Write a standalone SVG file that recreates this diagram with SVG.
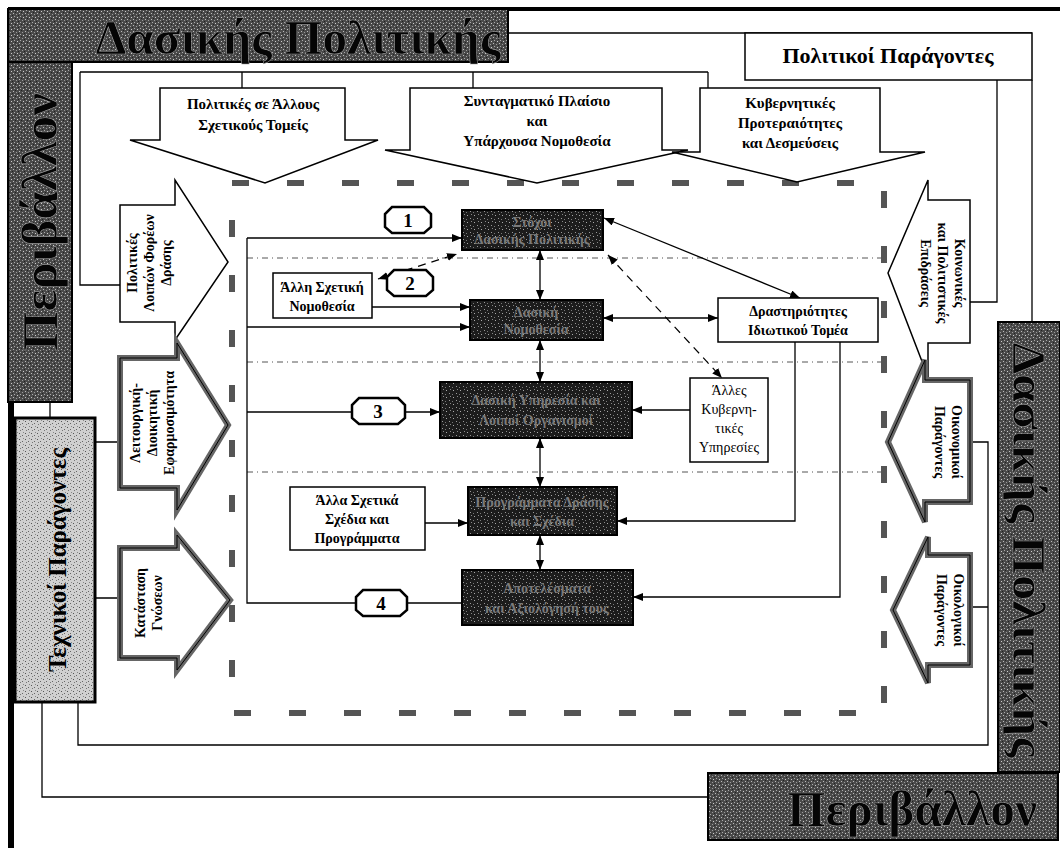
<svg xmlns="http://www.w3.org/2000/svg" width="1060" height="848" viewBox="0 0 1060 848">
<defs>
<pattern id="dk" width="7" height="7" patternUnits="userSpaceOnUse">
<rect width="7" height="7" fill="#1c1c1c"/>
<rect x="1" y="1" width="1" height="1" fill="#999"/><rect x="4" y="2" width="1" height="1" fill="#777"/>
<rect x="2" y="4" width="1" height="1" fill="#888"/><rect x="5" y="5" width="1" height="1" fill="#aaa"/>
</pattern>
<pattern id="md" width="6" height="6" patternUnits="userSpaceOnUse">
<rect width="6" height="6" fill="#4a4a4a"/>
<rect x="1" y="1" width="1" height="1" fill="#bbb"/><rect x="4" y="2" width="1" height="1" fill="#999"/>
<rect x="2" y="4" width="1" height="1" fill="#aaa"/><rect x="5" y="5" width="1" height="1" fill="#ccc"/>
<rect x="0" y="3" width="1" height="1" fill="#222"/><rect x="3" y="0" width="1" height="1" fill="#222"/>
</pattern>
<pattern id="lt" width="6" height="6" patternUnits="userSpaceOnUse">
<rect width="6" height="6" fill="#d0d0d0"/>
<rect x="1" y="1" width="1" height="1" fill="#555"/><rect x="4" y="3" width="1" height="1" fill="#666"/>
<rect x="2" y="4" width="1" height="1" fill="#777"/><rect x="5" y="0" width="1" height="1" fill="#888"/>
</pattern>
<marker id="ah" viewBox="0 0 10 8" refX="10" refY="4" markerWidth="10" markerHeight="8" markerUnits="userSpaceOnUse" orient="auto-start-reverse">
<path d="M0,0 L10,4 L0,8 Z" fill="#000"/>
</marker>
</defs>
<style>
.ln{fill:none;stroke:#000;stroke-width:1.3}
.dsh{fill:none;stroke:#000;stroke-width:1.2;stroke-dasharray:8 6}
.dot{fill:none;stroke:#555;stroke-width:1;stroke-dasharray:6 4 1 4}
.frame{fill:none;stroke:#555;stroke-width:6;stroke-dasharray:17 38}
.thin{fill:#fff;stroke:#000;stroke-width:1.5}
.thick{fill:#fff;stroke:#666;stroke-width:6}
.thickin{fill:none;stroke:#000;stroke-width:1}
.dark{fill:url(#dk);stroke:#000;stroke-width:2}
.ttl{fill:url(#md);stroke:#000;stroke-width:2}
.big{font-family:"Liberation Serif",serif;font-weight:bold;fill:#050505;stroke:#999;stroke-width:0.6;text-anchor:middle}
.t{font-family:"Liberation Serif",serif;font-weight:bold;font-size:14px;fill:#000;text-anchor:middle}
.r{font-family:"Liberation Serif",serif;font-size:14px;fill:#000;text-anchor:middle}
.dt{font-family:"Liberation Serif",serif;font-weight:bold;font-size:14px;fill:#7a7a7a;text-anchor:middle}
.lab{fill:#fff;stroke:#000;stroke-width:2.5}
.num{font-family:"Liberation Serif",serif;font-weight:bold;font-size:19px;fill:#000;text-anchor:middle}
</style>
<rect width="1060" height="848" fill="#fff"/>

<g id="outer-frame">
<rect x="8" y="7" width="1052" height="4" fill="#000"/>
<rect x="8" y="7" width="6" height="841" fill="#000"/>
</g>

<g id="connectors">
<path class="ln" d="M508,33 H1032 M1032,80 V322"/>
<path class="ln" d="M80,72 H708 M242,72 V88 M473,72 V88 M708,72 V88 M80,72 V285 H120"/>
<path class="ln" d="M997,80 V302 H970"/>
<path class="ln" d="M50,402 V418 M95,442 H120 M95,598 H120"/>
<path class="ln" d="M42,702 V797 H708 M78,702 V745 H988 V442 H970 M988,607 H970"/>
<path class="dot" d="M247,258 H882 M247,362 H882 M247,472 H882"/>
<path class="ln" d="M462,603 H247 V238"/>
<path class="ln" d="M247,238 H462" marker-end="url(#ah)"/>
<path class="ln" d="M247,327 H470" marker-end="url(#ah)"/>
<path class="ln" d="M247,412 H440" marker-end="url(#ah)"/>
<path class="ln" d="M372,307 H470" marker-end="url(#ah)"/>
<path class="dsh" d="M378,279 L457,254" marker-start="url(#ah)" marker-end="url(#ah)"/>
<path class="dsh" d="M608,255 L722,378" marker-start="url(#ah)" marker-end="url(#ah)"/>
<path class="ln" d="M604,218 L800,298" marker-start="url(#ah)" marker-end="url(#ah)"/>
<path class="ln" d="M603,318 H718" marker-start="url(#ah)" marker-end="url(#ah)"/>
<path class="ln" d="M540,250 V300" marker-start="url(#ah)" marker-end="url(#ah)"/>
<path class="ln" d="M540,340 V382" marker-start="url(#ah)" marker-end="url(#ah)"/>
<path class="ln" d="M540,438 V487" marker-start="url(#ah)" marker-end="url(#ah)"/>
<path class="ln" d="M540,535 V570" marker-start="url(#ah)" marker-end="url(#ah)"/>
<path class="ln" d="M690,410 H632" marker-end="url(#ah)"/>
<path class="ln" d="M795,342 V521 H617" marker-end="url(#ah)"/>
<path class="ln" d="M840,342 V597 H633" marker-end="url(#ah)"/>
<path class="ln" d="M425,523 H468" marker-end="url(#ah)"/>
</g>

<g id="policy-frame"><rect class="frame" x="232" y="183" width="652" height="530"/></g>

<g id="title-top">
<rect class="ttl" x="8" y="9" width="500" height="53"/>
<text class="big" x="298" y="54" font-size="48" textLength="405" lengthAdjust="spacingAndGlyphs">Δασικής Πολιτικής</text>
</g>
<g id="title-left">
<rect class="ttl" x="8" y="62" width="64" height="340"/>
<text class="big" transform="translate(57,222) rotate(-90)" font-size="50" textLength="258" lengthAdjust="spacingAndGlyphs">Περιβάλλον</text>
</g>
<g id="title-right">
<rect class="ttl" x="998" y="322" width="62" height="450"/>
<text class="big" transform="translate(1013,550) rotate(90)" font-size="46" textLength="415" lengthAdjust="spacingAndGlyphs">Δασικής Πολιτικής</text>
</g>
<g id="title-bottom">
<rect class="ttl" x="708" y="773" width="350" height="67"/>
<text class="big" x="912" y="826" font-size="50" textLength="250" lengthAdjust="spacingAndGlyphs">Περιβάλλον</text>
</g>

<g id="political-factors">
<rect class="thin" x="745" y="33" width="287" height="47"/>
<text class="t" x="888" y="63" style="font-size:22px">Πολιτικοί Παράγοντες</text>
</g>

<g id="technical-factors">
<rect x="15" y="418" width="80" height="284" fill="url(#lt)" stroke="#000" stroke-width="3"/>
<text class="t" transform="translate(66,560) rotate(-90)" style="font-size:25px">Τεχνικοί Παράγοντες</text>
</g>

<g id="arrow-other-policies">
<path class="thin" d="M160,88 H345 V140 H378 L265,183 L130,140 H160 Z"/>
<text class="t" x="253" y="109" style="font-size:15px">Πολιτικές σε Άλλους</text>
<text class="t" x="253" y="130" style="font-size:15px">Σχετικούς Τομείς</text>
</g>
<g id="arrow-constitution">
<path class="thin" d="M410,88 H662 V150 H688 L537,183 L385,150 H410 Z"/>
<text class="t" x="537" y="106" style="font-size:15px">Συνταγματικό Πλαίσιο</text>
<text class="t" x="537" y="126" style="font-size:15px">και</text>
<text class="t" x="537" y="146" style="font-size:15px">Υπάρχουσα Νομοθεσία</text>
</g>
<g id="arrow-government">
<path class="thin" d="M700,88 H880 V152 H925 L797,182 L672,152 H700 Z"/>
<text class="t" x="790" y="108" style="font-size:15px">Κυβερνητικές</text>
<text class="t" x="790" y="128" style="font-size:15px">Προτεραιότητες</text>
<text class="t" x="790" y="148" style="font-size:15px">και Δεσμεύσεις</text>
</g>

<g id="arrow-other-actors">
<path class="thin" d="M120,205 H175 V180 L228,262 L175,340 V322 H120 Z"/>
<text class="t" transform="translate(137,263) rotate(-90)">Πολιτικές</text>
<text class="t" transform="translate(154,263) rotate(-90)">Λοιπών Φορέων</text>
<text class="t" transform="translate(171,263) rotate(-90)">Δράσης</text>
</g>
<g id="arrow-administrative">
<path class="thick" d="M120,358 H177 V343 L228,425 L177,510 V488 H120 Z"/>
<path class="thickin" d="M120,358 H177 V343 L228,425 L177,510 V488 H120 Z"/>
<text class="t" transform="translate(140,423) rotate(-90)">Λειτουργική-</text>
<text class="t" transform="translate(157,423) rotate(-90)">Διοικητική</text>
<text class="t" transform="translate(174,423) rotate(-90)">Εφαρμοσιμότητα</text>
</g>
<g id="arrow-knowledge">
<path class="thick" d="M120,548 H177 V535 L230,600 L177,670 V658 H120 Z"/>
<path class="thickin" d="M120,548 H177 V535 L230,600 L177,670 V658 H120 Z"/>
<text class="t" transform="translate(145,603) rotate(-90)">Κατάσταση</text>
<text class="t" transform="translate(162,603) rotate(-90)">Γνώσεων</text>
</g>

<g id="arrow-social">
<path class="thin" d="M970,200 H928 V180 L888,273 L928,377 V343 H970 Z"/>
<text class="t" transform="translate(955,273) rotate(90)">Κοινωνικές</text>
<text class="t" transform="translate(938,273) rotate(90)">και Πολιτιστικές</text>
<text class="t" transform="translate(921,273) rotate(90)">Επιδράσεις</text>
</g>
<g id="arrow-economic">
<path class="thick" d="M970,380 H925 V360 L888,442 L925,522 V502 H970 Z"/>
<path class="thickin" d="M970,380 H925 V360 L888,442 L925,522 V502 H970 Z"/>
<text class="t" transform="translate(952,442) rotate(90)">Οικονομικοί</text>
<text class="t" transform="translate(935,442) rotate(90)">Παράγοντες</text>
</g>
<g id="arrow-ecological">
<path class="thick" d="M970,555 H928 V537 L893,610 L928,683 V665 H970 Z"/>
<path class="thickin" d="M970,555 H928 V537 L893,610 L928,683 V665 H970 Z"/>
<text class="t" transform="translate(954,610) rotate(90)">Οικολογικοί</text>
<text class="t" transform="translate(937,610) rotate(90)">Παράγοντες</text>
</g>

<g id="box-goals">
<rect class="dark" x="462" y="210" width="141" height="40"/>
<text class="dt" x="532" y="227">Στόχοι</text>
<text class="dt" x="532" y="244">Δασικής Πολιτικής</text>
</g>
<g id="box-legislation">
<rect class="dark" x="470" y="300" width="133" height="40"/>
<text class="dt" x="536" y="317">Δασική</text>
<text class="dt" x="536" y="334">Νομοθεσία</text>
</g>
<g id="box-institutions">
<rect class="dark" x="440" y="382" width="192" height="56"/>
<text class="dt" x="536" y="405">Δασική Υπηρεσία και</text>
<text class="dt" x="536" y="425">Λοιποί Οργανισμοί</text>
</g>
<g id="box-programmes">
<rect class="dark" x="468" y="487" width="149" height="48"/>
<text class="dt" x="542" y="507">Προγράμματα Δράσης</text>
<text class="dt" x="542" y="526">και Σχέδια</text>
</g>
<g id="box-results">
<rect class="dark" x="462" y="570" width="171" height="55"/>
<text class="dt" x="547" y="593">Αποτελέσματα</text>
<text class="dt" x="547" y="613">και Αξιολόγησή τους</text>
</g>

<g id="box-other-legislation">
<rect class="thin" x="273" y="273" width="99" height="45"/>
<text class="t" x="322" y="292">Άλλη Σχετική</text>
<text class="t" x="322" y="311">Νομοθεσία</text>
</g>
<g id="box-private-sector">
<rect class="thin" x="718" y="298" width="160" height="44"/>
<text class="t" x="798" y="316">Δραστηριότητες</text>
<text class="t" x="798" y="335">Ιδιωτικού Τομέα</text>
</g>
<g id="box-other-services">
<rect class="thin" x="690" y="378" width="78" height="84"/>
<text class="r" x="729" y="395">Άλλες</text>
<text class="r" x="729" y="414">Κυβερνη-</text>
<text class="r" x="729" y="433">τικές</text>
<text class="r" x="729" y="452">Υπηρεσίες</text>
</g>
<g id="box-other-plans">
<rect class="thin" x="290" y="487" width="135" height="63"/>
<text class="t" x="357" y="505">Άλλα Σχετικά</text>
<text class="t" x="357" y="524">Σχέδια και</text>
<text class="t" x="357" y="543">Προγράμματα</text>
</g>

<g id="label-1"><path class="lab" d="M392,207 H424 L431,214 V227 L424,233 H392 L385,227 V214 Z"/><text class="num" x="408" y="227">1</text></g>
<g id="label-2"><path class="lab" d="M394,270 H426 L433,277 V290 L426,296 H394 L387,290 V277 Z"/><text class="num" x="410" y="290">2</text></g>
<g id="label-3"><path class="lab" d="M359,398 H398 L405,405 V418 L398,424 H359 L352,418 V405 Z"/><text class="num" x="378" y="418">3</text></g>
<g id="label-4"><path class="lab" d="M363,590 H400 L407,597 V610 L400,616 H363 L356,610 V597 Z"/><text class="num" x="381" y="610">4</text></g>
</svg>
